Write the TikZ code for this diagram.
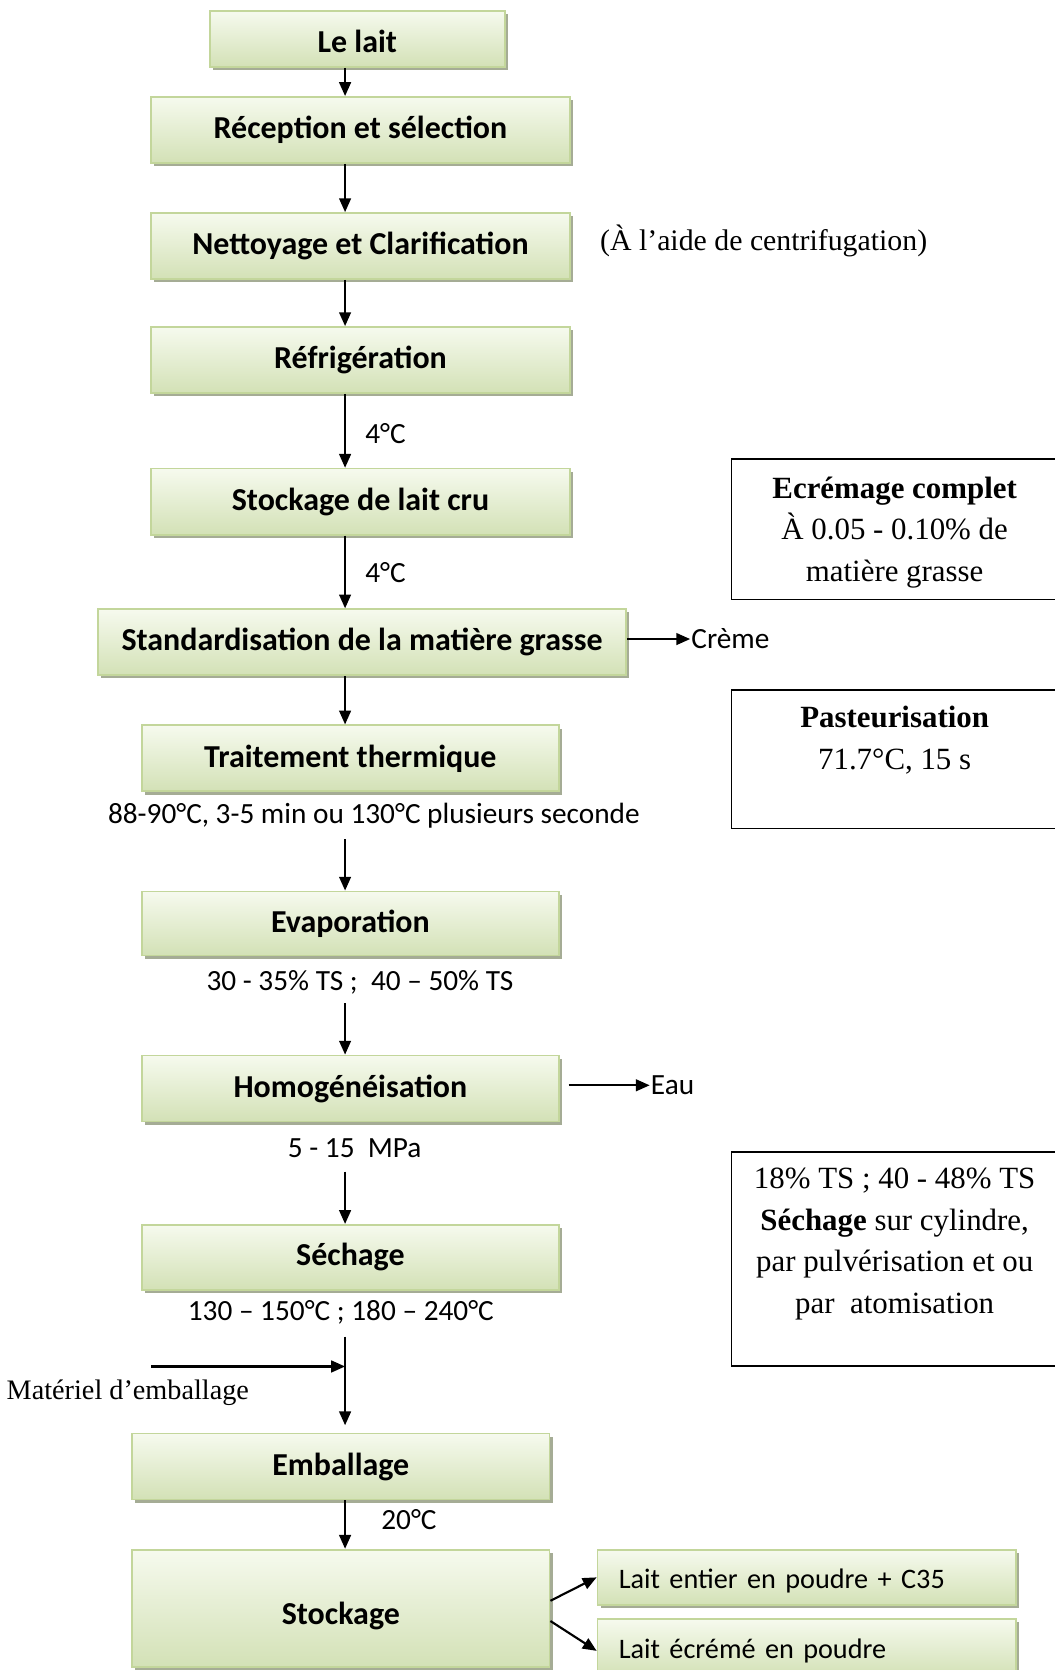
\documentclass[tikz,border=0pt]{standalone}
\usepackage{fontspec}
\setmainfont{Carlito}
\newfontfamily\serifrm{Liberation Serif}
\usetikzlibrary{shadows,arrows.meta}
\definecolor{bborder}{HTML}{C3D69B}
\definecolor{bbot}{HTML}{D3E1B6}
\definecolor{btop}{HTML}{F6FAEE}
\definecolor{bshadow}{HTML}{A5AC95}
\begin{document}
\begin{tikzpicture}[x=1pt,y=-1pt,
  stepbox/.style={draw=bborder, line width=1.6pt, top color=btop, bottom color=bbot,
    drop shadow={shadow xshift=3pt, shadow yshift=-3pt, fill=bshadow, opacity=1},
    font=\fontsize{30}{34}\selectfont\bfseries, inner sep=0pt},
  outbox/.style={stepbox, minimum width=393pt, font=\fontsize{26.5}{32}\selectfont,
    text width=353pt, align=left, text height=21pt, text depth=0pt},
  lbl/.style={font=\fontsize{27.5}{32}\selectfont, inner sep=1pt},
  sertxt/.style={font=\serifrm\fontsize{29}{39}\selectfont, inner sep=0pt, align=center},
  notebox/.style={draw=black, line width=1.5pt, inner sep=0pt, anchor=north west, minimum width=330pt},
  flow/.style={line width=2pt, -{Triangle[length=13pt,width=11pt]}}]
\useasboundingbox (0,0) rectangle (990,1568);
\fill[white] (0,0) rectangle (990,1568);
\coordinate (axis) at (324,0);

% main boxes
\node[stepbox, minimum width=277pt, minimum height=53pt, text height=26pt, text depth=0pt] (lait) at (335.5,36.5) {Le lait};
\node[stepbox, minimum width=393pt, minimum height=62pt] (recep) at (338.5,122) {Réception et sélection};
\node[stepbox, minimum width=393pt, minimum height=62pt] (nett) at (338.5,231) {Nettoyage et Clarification};
\node[stepbox, minimum width=393pt, minimum height=62pt] (refr) at (338.5,338) {Réfrigération};
\node[stepbox, minimum width=393pt, minimum height=62pt] (stcru) at (338.5,471) {Stockage de lait cru};
\node[stepbox, minimum width=496pt, minimum height=62pt] (stand) at (340,603) {Standardisation de la matière grasse};
\node[stepbox, minimum width=392pt, minimum height=62pt] (trait) at (329,712) {Traitement thermique};
\node[stepbox, minimum width=392pt, minimum height=60pt] (evap) at (329,867) {Evaporation};
\node[stepbox, minimum width=392pt, minimum height=62pt] (homo) at (329,1022) {Homogénéisation};
\node[stepbox, minimum width=392pt, minimum height=61pt] (sech) at (329,1180.5) {Séchage};
\node[stepbox, minimum width=392pt, minimum height=62pt] (emb) at (320,1377) {Emballage};
\node[stepbox, minimum width=392pt, minimum height=110pt, text height=30pt, text depth=0pt] (stock) at (320,1510) {Stockage};
\node[outbox, minimum height=52pt] (lentier) at (757.5,1481) {Lait entier en poudre + C35};
\node[outbox, minimum height=54pt] (lecreme) at (757.5,1547) {Lait écrémé en poudre};

% labels
\node[lbl] (t4a) at (362,407) {4°C};
\node[lbl] (t4b) at (362,538) {4°C};
\node[lbl] (l1) at (351,766) {88-90°C, 3-5 min ou 130°C plusieurs seconde};
\node[lbl] (l2) at (338,922) {30 - 35\% TS ;\ \ 40 – 50\% TS};
\node[lbl] (l3) at (333,1078) {5 - 15\ \ MPa};
\node[lbl] (l4) at (320,1232) {130 – 150°C ; 180 – 240°C};
\node[lbl] (l5) at (384,1427) {20°C};
\node[lbl, anchor=west] (creme) at (648,600) {Crème};
\node[lbl, anchor=west] (eau) at (610,1019) {Eau};
\node[sertxt, font=\serifrm\fontsize{28}{34}\selectfont] (note) at (717,226) {(À l’aide de centrifugation)};
\node[sertxt, font=\serifrm\fontsize{26.5}{32}\selectfont] (mat) at (120,1308) {Matériel d’emballage};

% right note boxes
\node[notebox, minimum height=132pt] (rb1) at (686,430) {};
\node[notebox, minimum height=130pt] (rb2) at (686,647) {};
\node[notebox, minimum height=201pt] (rb3) at (686,1081) {};
\node[sertxt] (rt1) at (840,500) {\textbf{Ecrémage complet}\\À 0.05 - 0.10\% de\\matière grasse};
\node[sertxt] (rt2) at (840,695) {\textbf{Pasteurisation}\\71.7°C, 15 s};
\node[sertxt] (rt3) at (840,1168) {18\% TS ; 40 - 48\% TS\\\textbf{Séchage} sur cylindre,\\par pulvérisation et ou\\par\ \ atomisation};

% coordinates for free ends
\coordinate (s1) at (324,788);
\coordinate (s2) at (324,942);
\coordinate (s3) at (324,1100);
\coordinate (s4) at (324,1255);
\coordinate (matstart) at (142,1283);
\coordinate (matend) at (324,1283);

% connectors
\draw[flow] (lait.south -| axis) -- (recep.north -| axis);
\draw[flow] (recep.south -| axis) -- (nett.north -| axis);
\draw[flow] (nett.south -| axis) -- (refr.north -| axis);
\draw[flow] (refr.south -| axis) -- (stcru.north -| axis);
\draw[flow] (stcru.south -| axis) -- (stand.north -| axis);
\draw[flow] (stand.south -| axis) -- (trait.north -| axis);
\draw[flow] (s1) -- (evap.north -| axis);
\draw[flow] (s2) -- (homo.north -| axis);
\draw[flow] (s3) -- (sech.north -| axis);
\draw[flow, shorten >=7pt] (s4) -- (emb.north -| axis);
\draw[flow] (matstart) -- (matend);
\draw[flow] (emb.south -| axis) -- (stock.north -| axis);
\draw[flow] (stand.east |- creme.west) -- (creme.west);
\draw[flow, shorten <=8pt] (homo.east |- eau.west) -- (eau.west);
\draw[flow] ([yshift=7pt]stock.east) -- (lentier.west);
\draw[flow] ([yshift=-12pt]stock.east) -- ([yshift=-3pt]lecreme.west);
\end{tikzpicture}
\end{document}
